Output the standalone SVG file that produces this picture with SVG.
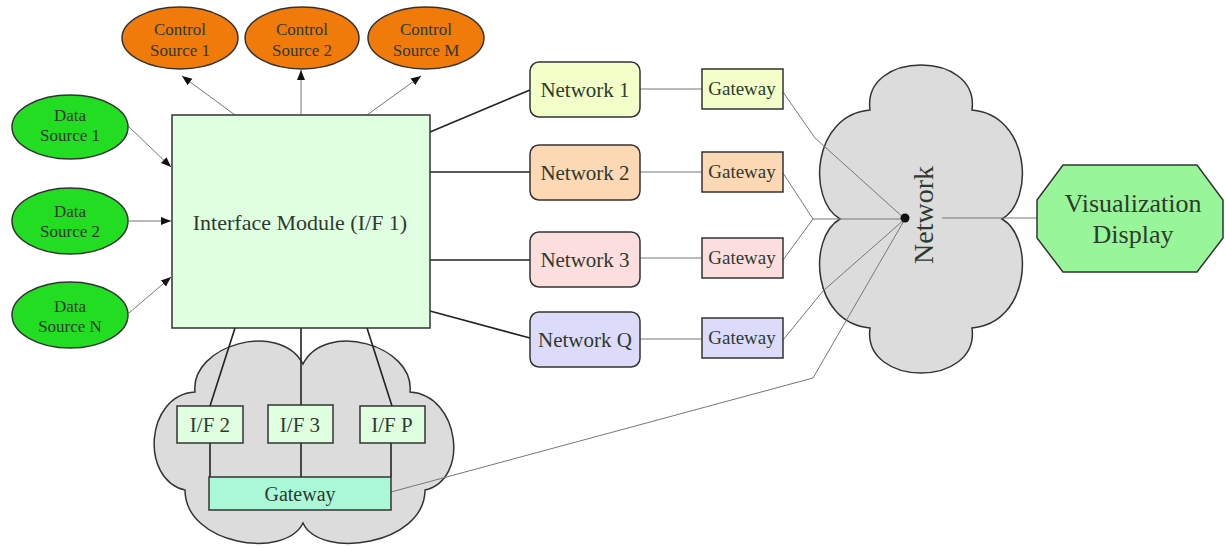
<svg xmlns="http://www.w3.org/2000/svg" width="1225" height="548" viewBox="0 0 1225 548">
<defs>
<marker id="arr" viewBox="0 0 10 10" refX="10" refY="5" markerWidth="10" markerHeight="10" markerUnits="userSpaceOnUse" orient="auto"><path d="M0,1 L10,5 L0,9 z" fill="#111"/></marker>
<style>
text{font-family:"Liberation Serif","Times New Roman",serif;fill:#2e3a2e;text-anchor:middle}
.ell{stroke:#333;stroke-width:1.5}
.ctrl{fill:#f07a0a}
.data{fill:#22dd22}
.box{stroke:#333;stroke-width:1.5}
.cloud{fill:#dcdcdc;stroke:#333;stroke-width:1.5}
.thin{stroke:#777;stroke-width:1;fill:none}
.dark{stroke:#222;stroke-width:1.6;fill:none}
.s17{font-size:17px}
</style>
</defs>
<rect width="1225" height="548" fill="#fff"/>

<g id="cloud-bottom">
<path class="cloud" d="M195 392 C190 345,280 320,303 364 C325 320,415 345,410 392 C460 395,470 480,425 490 C425 545,320 560,303 523 C285 560,185 545,185 490 C140 480,145 395,195 392 Z"/>
</g>
<g id="cloud-network">
<path class="cloud" d="M870 110 C862 50,980 50,972 110 C1030 115,1035 200,1002 219 C1035 238,1030 323,972 328 C980 388,862 388,870 328 C812 323,807 238,840 219 C807 200,812 115,870 110 Z"/>
</g>

<g id="connectors">
<line class="thin" x1="235" y1="115" x2="182" y2="76" marker-end="url(#arr)"/>
<line class="thin" x1="301" y1="115" x2="301" y2="70" marker-end="url(#arr)"/>
<line class="thin" x1="367" y1="115" x2="421" y2="76" marker-end="url(#arr)"/>
<line class="thin" x1="128" y1="126" x2="171" y2="167" marker-end="url(#arr)"/>
<line class="thin" x1="129" y1="221" x2="171" y2="221" marker-end="url(#arr)"/>
<line class="thin" x1="129" y1="313" x2="171" y2="277" marker-end="url(#arr)"/>
<line class="dark" x1="430" y1="132" x2="530" y2="90"/>
<line class="dark" x1="430" y1="172" x2="530" y2="172"/>
<line class="dark" x1="430" y1="260" x2="530" y2="260"/>
<line class="dark" x1="430" y1="311" x2="530" y2="338"/>
<line class="thin" x1="640" y1="89" x2="702" y2="89"/>
<line class="thin" x1="640" y1="172" x2="702" y2="172"/>
<line class="thin" x1="640" y1="258" x2="702" y2="258"/>
<line class="thin" x1="640" y1="339" x2="702" y2="339"/>
<polyline class="thin" points="783,92 815,138 905,219"/>
<polyline class="thin" points="783,173 813,219 783,260"/>
<line class="thin" x1="813" y1="219" x2="905" y2="219"/>
<polyline class="thin" points="783,340 823,291 905,219"/>
<polyline class="thin" points="391,492 813,378 905,219"/>
<line class="thin" x1="942" y1="218" x2="1037" y2="218"/>
<line class="dark" x1="235" y1="328" x2="210" y2="406"/>
<line class="dark" x1="301" y1="328" x2="301" y2="405"/>
<line class="dark" x1="367" y1="328" x2="392" y2="406"/>
<line class="dark" x1="210" y1="443" x2="210" y2="477"/>
<line class="dark" x1="301" y1="443" x2="301" y2="477"/>
<line class="dark" x1="391" y1="443" x2="391" y2="477"/>
</g>

<g id="control-1"><ellipse class="ell ctrl" cx="180" cy="38" rx="58" ry="31"/><text class="s17" x="180" y="35">Control</text><text class="s17" x="180" y="56">Source 1</text></g>
<g id="control-2"><ellipse class="ell ctrl" cx="302" cy="38" rx="57" ry="31"/><text class="s17" x="302" y="35">Control</text><text class="s17" x="302" y="56">Source 2</text></g>
<g id="control-m"><ellipse class="ell ctrl" cx="426" cy="38" rx="58" ry="31"/><text class="s17" x="426" y="35">Control</text><text class="s17" x="426" y="56">Source M</text></g>

<g id="data-1"><ellipse class="ell data" cx="70" cy="127" rx="58" ry="32"/><text class="s17" x="70" y="121">Data</text><text class="s17" x="70" y="141">Source 1</text></g>
<g id="data-2"><ellipse class="ell data" cx="70" cy="221" rx="58" ry="33"/><text class="s17" x="70" y="217">Data</text><text class="s17" x="70" y="237">Source 2</text></g>
<g id="data-n"><ellipse class="ell data" cx="70" cy="315" rx="58" ry="33"/><text class="s17" x="70" y="312">Data</text><text class="s17" x="70" y="332">Source N</text></g>

<g id="interface-module"><rect class="box" x="172" y="115" width="258" height="213" fill="#e0ffe0"/><text x="300" y="230" font-size="22">Interface Module (I/F 1)</text></g>

<g id="network-1"><rect class="box" x="530" y="62" width="110" height="55" rx="9" fill="#f2ffc8"/><text x="585" y="97" font-size="21">Network 1</text></g>
<g id="network-2"><rect class="box" x="530" y="145" width="110" height="55" rx="9" fill="#fcd8b4"/><text x="585" y="180" font-size="21">Network 2</text></g>
<g id="network-3"><rect class="box" x="530" y="232" width="110" height="55" rx="9" fill="#fddede"/><text x="585" y="267" font-size="21">Network 3</text></g>
<g id="network-q"><rect class="box" x="530" y="312" width="110" height="55" rx="9" fill="#dcdcfa"/><text x="585" y="347" font-size="21">Network Q</text></g>

<g id="gateway-1"><rect class="box" x="702" y="69" width="81" height="40" fill="#f2ffc8"/><text x="742" y="95" font-size="19">Gateway</text></g>
<g id="gateway-2"><rect class="box" x="702" y="152" width="81" height="40" fill="#fcd8b4"/><text x="742" y="178" font-size="19">Gateway</text></g>
<g id="gateway-3"><rect class="box" x="702" y="238" width="81" height="40" fill="#fddede"/><text x="742" y="264" font-size="19">Gateway</text></g>
<g id="gateway-q"><rect class="box" x="702" y="318" width="81" height="40" fill="#dcdcfa"/><text x="742" y="344" font-size="19">Gateway</text></g>

<g id="if-2"><rect class="box" x="177" y="406" width="66" height="37" fill="#e0ffe0"/><text x="210" y="432" font-size="21">I/F 2</text></g>
<g id="if-3"><rect class="box" x="268" y="405" width="65" height="38" fill="#e0ffe0"/><text x="300" y="432" font-size="21">I/F 3</text></g>
<g id="if-p"><rect class="box" x="360" y="406" width="65" height="37" fill="#e0ffe0"/><text x="392" y="432" font-size="21">I/F P</text></g>
<g id="gateway-bottom"><rect class="box" x="209" y="477" width="182" height="33" fill="#aaf8d8"/><text x="300" y="501" font-size="20">Gateway</text></g>

<g id="network-label"><circle cx="905" cy="218" r="4.5" fill="#111"/><text transform="translate(933,215) rotate(-90)" font-size="28">Network</text></g>

<g id="visualization"><polygon class="box" points="1063,165 1197,165 1223,200 1223,238 1197,272 1063,272 1037,238 1037,200" fill="#99f599"/><text x="1133" y="212" font-size="26">Visualization</text><text x="1133" y="243" font-size="26">Display</text></g>
</svg>
